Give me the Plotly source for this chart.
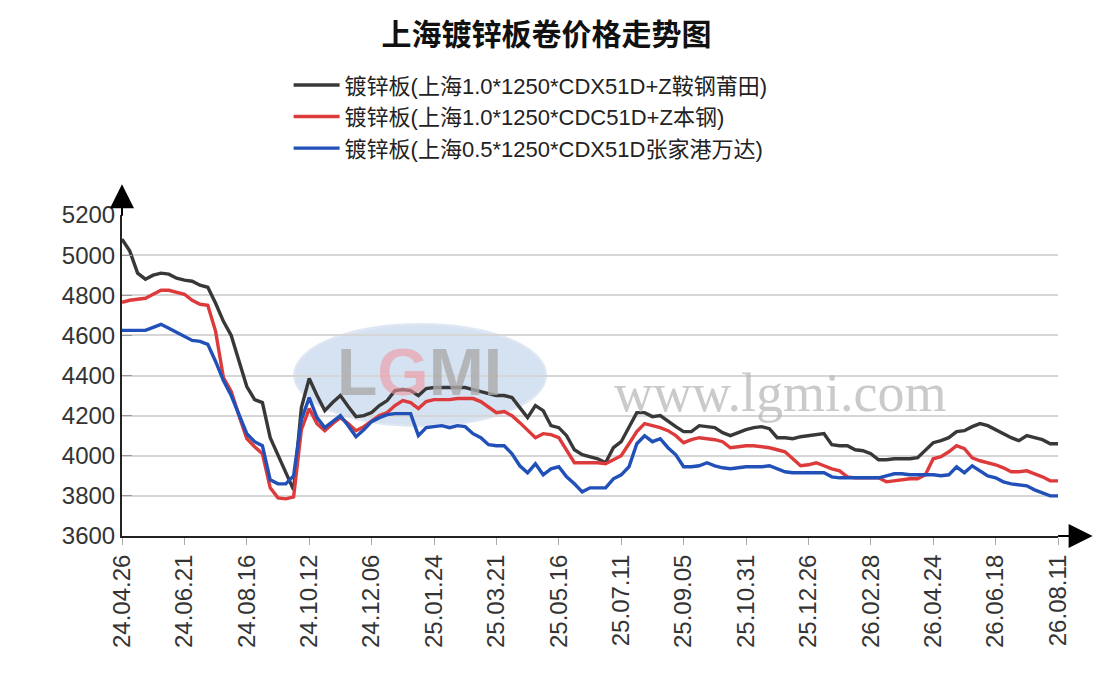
import plotly.graph_objects as go

# tick labels (one every 8 points)
tick_labels = ['24.04.26', '24.06.21', '24.08.16', '24.10.12', '24.12.06', '25.01.24',
               '25.03.21', '25.05.16', '25.07.11', '25.09.05', '25.10.31', '25.12.26',
               '26.02.28', '26.04.24', '26.06.18', '26.08.11']

names = ['镀锌板(上海1.0*1250*CDX51D+Z鞍钢莆田)',
         '镀锌板(上海1.0*1250*CDC51D+Z本钢)',
         '镀锌板(上海0.5*1250*CDX51D张家港万达)']

black = [5080, 5020, 4910, 4880, 4900, 4910, 4905, 4885, 4875, 4870,
         4850, 4840, 4760, 4670, 4600, 4470, 4345, 4280, 4265, 4090,
         4000, 3910, 3830, 4240, 4385, 4300, 4225, 4265, 4300, 4245,
         4195, 4200, 4215, 4250, 4275, 4325, 4330, 4325, 4300, 4335,
         4340, 4340, 4340, 4340, 4340, 4330, 4320, 4310, 4300, 4300,
         4290, 4240, 4190, 4250, 4225, 4150, 4140, 4100, 4030, 4005,
         3995, 3985, 3965, 4040, 4070, 4140, 4215, 4215, 4195, 4200,
         4170, 4145, 4120, 4120, 4150, 4145, 4140, 4115, 4100, 4115,
         4130, 4140, 4145, 4135, 4090, 4090, 4085, 4095, 4100, 4105,
         4110, 4055, 4050, 4050, 4030, 4025, 4010, 3980, 3980, 3985,
         3985, 3985, 3990, 4030, 4065, 4075, 4090, 4120, 4125, 4145,
         4160, 4150, 4130, 4110, 4090, 4075, 4100, 4090, 4080, 4060,
         4060]

red = [4765, 4775, 4780, 4785, 4805, 4825, 4825, 4815, 4805, 4775,
       4755, 4750, 4620, 4390, 4320, 4200, 4085, 4045, 4010, 3840,
       3790, 3785, 3795, 4130, 4235, 4160, 4125, 4160, 4190, 4160,
       4125, 4145, 4170, 4200, 4215, 4250, 4275, 4265, 4235, 4270,
       4280, 4280, 4280, 4285, 4285, 4285, 4270, 4245, 4215, 4220,
       4200, 4165, 4125, 4090, 4110, 4105, 4090, 4030, 3965, 3965,
       3965, 3965, 3960, 3980, 4000, 4060, 4120, 4160, 4150, 4140,
       4125, 4100, 4065, 4080, 4090, 4085, 4080, 4070, 4040, 4045,
       4050, 4050, 4045, 4040, 4030, 4020, 3985, 3950, 3955, 3965,
       3950, 3935, 3925, 3895, 3890, 3890, 3890, 3890, 3870, 3875,
       3880, 3885, 3885, 3905, 3985, 3995, 4020, 4050, 4035, 3990,
       3975, 3965, 3955, 3940, 3920, 3920, 3925, 3910, 3895, 3875,
       3875]

blue = [4625, 4625, 4625, 4625, 4640, 4655, 4635, 4615, 4595, 4575,
        4570, 4555, 4470, 4375, 4300, 4200, 4110, 4070, 4050, 3880,
        3860, 3860, 3900, 4180, 4290, 4190, 4140, 4170, 4200, 4150,
        4095, 4130, 4170, 4190, 4205, 4210, 4210, 4210, 4100, 4140,
        4145, 4150, 4140, 4150, 4145, 4110, 4090, 4055, 4050, 4050,
        4010, 3950, 3915, 3960, 3905, 3935, 3945, 3895, 3860, 3820,
        3840, 3840, 3840, 3885, 3905, 3945, 4060, 4100, 4070, 4085,
        4040, 4005, 3945, 3945, 3950, 3965, 3950, 3940, 3935, 3940,
        3945, 3945, 3945, 3950, 3935, 3920, 3915, 3915, 3915, 3915,
        3915, 3895, 3890, 3890, 3890, 3890, 3890, 3890, 3900, 3910,
        3910, 3905, 3905, 3905, 3905, 3900, 3905, 3945, 3915, 3950,
        3925, 3900, 3890, 3870, 3860, 3855, 3850, 3830, 3815, 3800,
        3800]

colors = ['#383838', '#dd3a3c', '#2150b8']
step = 8

fig = go.Figure()
for name, ys, c in zip(names, [black, red, blue], colors):
    fig.add_trace(go.Scatter(x=list(range(len(ys))), y=ys, mode='lines', name=name,
                             line=dict(color=c, width=3.4)))

# the page adds an 8px body margin, so the margins are shifted by that much
fig.update_layout(
    width=1106, height=695,
    margin=dict(l=114, r=56, t=207, b=167),
    paper_bgcolor='white', plot_bgcolor='white',
    font=dict(family='Arial, Liberation Sans, Noto Sans CJK SC', color='#333333'),
    title=dict(text='<b>上海镀锌板卷价格走势图</b>', x=0.487, xanchor='center',
               y=0.962, yanchor='middle',
               font=dict(family='Noto Sans CJK SC', size=30, color='#111111')),
    legend=dict(x=0.178, y=1.47, xanchor='left', yanchor='top', bgcolor='rgba(0,0,0,0)',
                font=dict(size=22, color='#222222'), tracegroupgap=0, itemwidth=46),
    showlegend=True,
)

fig.update_xaxes(range=[0, len(black) - 1], tickmode='array',
                 tickvals=list(range(0, len(black), step)), ticktext=tick_labels,
                 tickangle=-90, tickfont=dict(size=24), ticks='outside', ticklen=7,
                 tickcolor='#aaaaaa', showgrid=False, showline=True, linecolor='#222222',
                 linewidth=2, zeroline=False)
fig.update_yaxes(range=[3600, 5200], dtick=200, tickfont=dict(size=24), ticks='inside',
                 ticklen=10, tickcolor='#999999', showgrid=True, gridcolor='#d6d6d6',
                 gridwidth=1.5, showline=True, linecolor='#222222', linewidth=2,
                 zeroline=False)

# axis arrows
fig.add_annotation(xref='paper', yref='paper', x=1.037, y=0, ax=-36, ay=0,
                   showarrow=True, arrowhead=2, arrowsize=2.4, arrowwidth=2,
                   arrowcolor='black', text='')
fig.add_annotation(xref='paper', yref='paper', x=0, y=1.096, ax=0, ay=33,
                   showarrow=True, arrowhead=2, arrowsize=2.4, arrowwidth=2,
                   arrowcolor='black', text='')

# watermark
fig.add_shape(type='circle', xref='paper', yref='paper', x0=0.185, x1=0.452,
              y0=0.346, y1=0.657, fillcolor='rgba(125,165,215,0.32)',
              line=dict(color='rgba(215,225,240,0.8)', width=4), layer='below')
fig.add_annotation(xref='paper', yref='paper', x=0.318, y=0.51, xanchor='center',
                   yanchor='middle', showarrow=False,
                   text=('<b><span style="color:rgba(170,170,170,0.8)">L</span>'
                         '<span style="color:rgba(240,150,160,0.6)">G</span>'
                         '<span style="color:rgba(170,170,170,0.8)">MI</span></b>'),
                   font=dict(family='Liberation Sans', size=66))
fig.add_annotation(xref='paper', yref='paper', x=0.703, y=0.445, xanchor='center',
                   yanchor='middle', text='www.lgmi.com', showarrow=False,
                   font=dict(family='Liberation Serif', size=54,
                             color='rgba(180,180,180,0.7)'))

fig.write_html('out.html')
